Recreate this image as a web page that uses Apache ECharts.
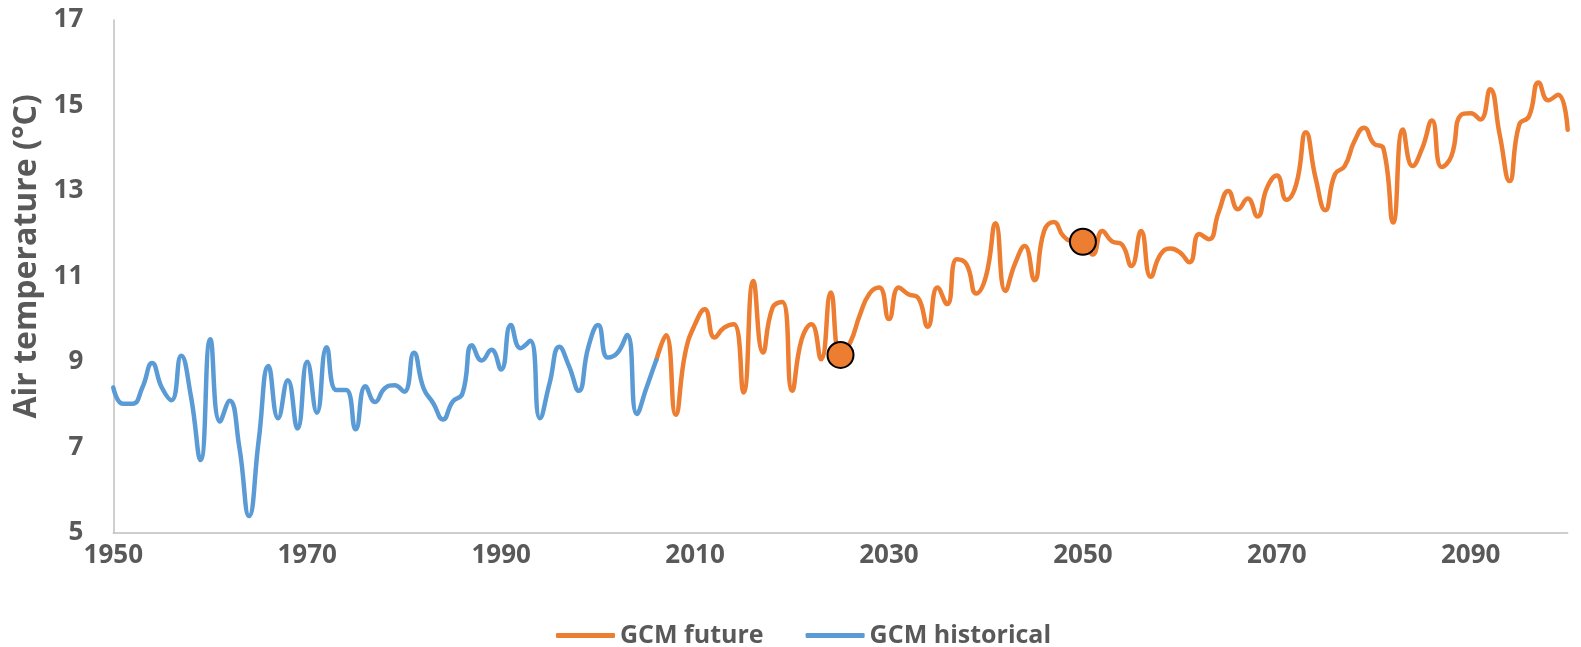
<!DOCTYPE html>
<html>
<head>
<meta charset="utf-8">
<script src="https://cdn.jsdelivr.net/npm/echarts@6/dist/echarts.min.js"></script>
<style>
  html, body { margin: 0; padding: 0; background: #ffffff; }
  #chart { width: 1581px; height: 647px; }
</style>
</head>
<body>
<div id="chart"></div>
<script>
// ---- data ----
const histStartYear = 1950;
const histValues = [
  8.40, 8.02, 8.02, 8.40, 8.97, 8.40, 8.10, 9.14, 8.20, 6.70,
  9.53, 7.60, 8.09, 7.00, 5.39, 7.17, 8.90, 7.68, 8.57, 7.44,
  9.00, 7.81, 9.34, 8.34, 8.34, 7.42, 8.43, 8.06, 8.38, 8.45,
  8.30, 9.21, 8.38, 8.03, 7.65, 8.07, 8.25, 9.39, 9.03, 9.28,
  8.82, 9.86, 9.32, 9.49, 7.68, 8.50, 9.35, 8.90, 8.32, 9.35,
  9.86, 9.10, 9.21, 9.63, 7.78, 8.40, 9.04
];
const futStartYear = 2006;
const futValues = [
  9.04, 9.62, 7.76, 9.22, 9.88, 10.23, 9.57, 9.80, 9.88, 8.28,
  10.89, 9.22, 10.27, 10.40, 8.32, 9.53, 9.88, 9.06, 10.62, 9.16,
  9.45, 10.10, 10.60, 10.74, 10.00, 10.74, 10.58, 10.50, 9.82, 10.74,
  10.35, 11.40, 11.28, 10.60, 11.00, 12.24, 10.66, 11.30, 11.71, 10.91,
  12.06, 12.27, 11.94, 11.82, 11.81, 11.51, 12.06, 11.82, 11.75, 11.24,
  12.06, 10.99, 11.51, 11.65, 11.56, 11.33, 11.99, 11.87, 12.50, 13.00,
  12.57, 12.82, 12.40, 13.08, 13.36, 12.79, 13.15, 14.37, 13.30, 12.55,
  13.39, 13.58, 14.16, 14.48, 14.11, 13.99, 12.26, 14.44, 13.58, 14.00,
  14.65, 13.56, 13.81, 14.78, 14.82, 14.67, 15.38, 14.30, 13.23, 14.55,
  14.74, 15.54, 15.12, 15.25, 14.43
];
const markerYears = [2025, 2050];
const markerValues = [9.16, 11.81];
const seriesNames = ['GCM future', 'GCM historical'];
const yTitle = 'Air temperature (\u00B0C)';

// ---- build pairs ----
const histData = histValues.map((v, i) => [histStartYear + i, v]);
const futData = futValues.map((v, i) => [futStartYear + i, v]);
const markerData = markerYears.map((y, i) => [y, markerValues[i]]);

const FONT = '"Open Sans", "Liberation Sans", sans-serif';
const TXT = '#595959';
const AXIS = '#BFBFBF';

const chart = echarts.init(document.getElementById('chart'), null, { renderer: 'canvas' });
chart.setOption({
  animation: false,
  backgroundColor: '#ffffff',
  grid: { left: 113.3, right: 13.3, top: 20, bottom: 114.3, containLabel: false, outerBoundsMode: 'none' },
  legend: {
    data: seriesNames,
    icon: 'roundRect',
    left: 551,
    top: 618,
    itemWidth: 59,
    itemHeight: 5,
    itemGap: 42,
    textStyle: { fontFamily: FONT, fontSize: 25, fontWeight: 'bold', color: TXT }
  },
  xAxis: {
    type: 'value',
    min: 1950,
    max: 2100,
    interval: 20,
    splitLine: { show: false },
    axisTick: { show: false },
    axisLine: { show: true, lineStyle: { color: AXIS, width: 1.5 } },
    axisLabel: {
      margin: 10,
      showMaxLabel: false,
      fontFamily: FONT, fontSize: 26, fontWeight: 'bold', color: TXT,
      formatter: v => String(v)
    }
  },
  yAxis: {
    type: 'value',
    min: 5,
    max: 17,
    interval: 2,
    splitLine: { show: false },
    axisTick: { show: false },
    axisLine: { show: true, lineStyle: { color: AXIS, width: 1.5 } },
    axisLabel: { margin: 30, fontFamily: FONT, fontSize: 26, fontWeight: 'bold', color: TXT },
    name: yTitle,
    nameLocation: 'middle',
    nameRotate: 90,
    nameGap: 59,
    nameTextStyle: { fontFamily: FONT, fontSize: 32, fontWeight: 'bold', color: TXT, padding: [0, 0, 0, 40] }
  },
  series: [
    {
      name: seriesNames[0],
      type: 'line',
      data: futData,
      smooth: 0.5,
      symbol: 'none',
      lineStyle: { color: '#ED7D31', width: 4.5, cap: 'round', join: 'round' },
      itemStyle: { color: '#ED7D31' },
      z: 2
    },
    {
      name: seriesNames[1],
      type: 'line',
      data: histData,
      smooth: 0.5,
      symbol: 'none',
      lineStyle: { color: '#5B9BD5', width: 4.5, cap: 'round', join: 'round' },
      itemStyle: { color: '#5B9BD5' },
      z: 3
    },
    {
      name: 'markers',
      type: 'scatter',
      data: markerData,
      symbol: 'circle',
      symbolSize: 26,
      itemStyle: { color: '#ED7D31', borderColor: '#000000', borderWidth: 2, opacity: 1 },
      z: 4
    }
  ]
});
</script>
</body>
</html>
